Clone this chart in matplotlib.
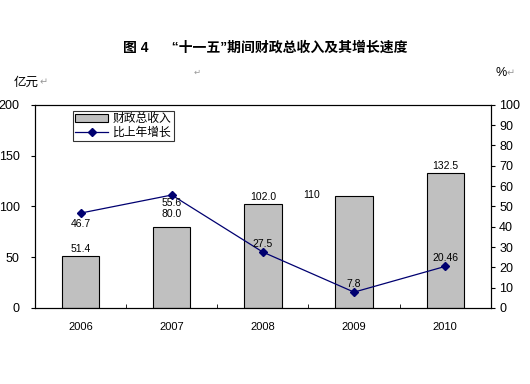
import numpy as np
import matplotlib.pyplot as plt

plt.rcParams['font.family'] = ['Liberation Sans', 'Noto Sans CJK SC', 'DejaVu Sans']

years = ["2006", "2007", "2008", "2009", "2010"]
revenue = [51.4, 80.0, 102.0, 110, 132.5]
growth = [46.7, 55.6, 27.5, 7.8, 20.46]
revenue_labels = ["51.4", "80.0", "102.0", "110", "132.5"]
growth_labels = ["46.7", "55.6", "27.5", "7.8", "20.46"]

fig = plt.figure(figsize=(5.3, 3.84), dpi=100)
ax = fig.add_axes([0.066, 0.198, 0.86, 0.529])
ax2 = ax.twinx()

x = np.arange(len(years))
bars = ax.bar(x, revenue, width=0.41, color="#c0c0c0", edgecolor="black",
              linewidth=0.8, label="财政总收入", zorder=2)
line, = ax2.plot(x, growth, color="#000070", marker="D", markersize=4,
                 linewidth=0.9, label="比上年增长", zorder=3)

ax.set_xlim(-0.5, len(years) - 0.5)
ax.set_ylim(0, 200)
ax2.set_ylim(0, 100)
ax.set_yticks(np.arange(0, 201, 50))
ax2.set_yticks(np.arange(0, 101, 10))
ax.set_xticks(x)
ax.set_xticklabels(years)
ax.set_xticks(np.arange(0.5, len(years) - 1, 1), minor=True)
ax.tick_params(axis="x", which="major", length=0, pad=10, labelsize=8)
ax.tick_params(axis="x", which="minor", direction="in", length=3)
ax.tick_params(axis="y", direction="out", length=3, labelsize=9, pad=8)
ax2.tick_params(axis="y", direction="out", length=3, labelsize=9, pad=3)
for a in (ax, ax2):
    for s in a.spines.values():
        s.set_linewidth(0.8)

# bar labels (placed by hand in the original, so offsets vary)
bar_offsets = [2, 8, 2, 0, 2]
for i, (v, t, o) in enumerate(zip(revenue, revenue_labels, bar_offsets)):
    if t == "110":
        ax.text(i - 0.47, v - 4, t, ha="center", va="bottom", fontsize=7.5)
    else:
        ax.text(i, v + o, t, ha="center", va="bottom", fontsize=7.5)

# line labels
offsets = [-3.0, -1.5, 1.5, 1.5, 1.5]
for i, (v, t, o) in enumerate(zip(growth, growth_labels, offsets)):
    ax2.text(i, v + o, t, ha="center", va="top" if o < 0 else "bottom",
             fontsize=7.5)

leg = ax.legend(handles=[bars, line], loc="upper left",
                bbox_to_anchor=(0.07, 1.0), fontsize=8.5, frameon=True,
                fancybox=False, edgecolor="black", borderpad=0.2,
                labelspacing=0.15, handlelength=2.8, handletextpad=0.4)
leg.get_frame().set_linewidth(0.8)

fig.text(0.5, 0.875, "图 4      “十一五”期间财政总收入及其增长速度",
         ha="center", va="center", fontsize=10, fontweight="bold")
fig.text(0.025, 0.785, "亿元", ha="left", va="center", fontsize=9)
fig.text(0.075, 0.785, "↵", ha="left", va="center", fontsize=7, color="#999999")
fig.text(0.935, 0.81, "%", ha="left", va="center", fontsize=9)
fig.text(0.955, 0.81, "↵", ha="left", va="center", fontsize=7, color="#999999")
fig.text(0.365, 0.81, "↵", ha="left", va="center", fontsize=6, color="#999999")

fig.savefig("out.png", dpi=100)
